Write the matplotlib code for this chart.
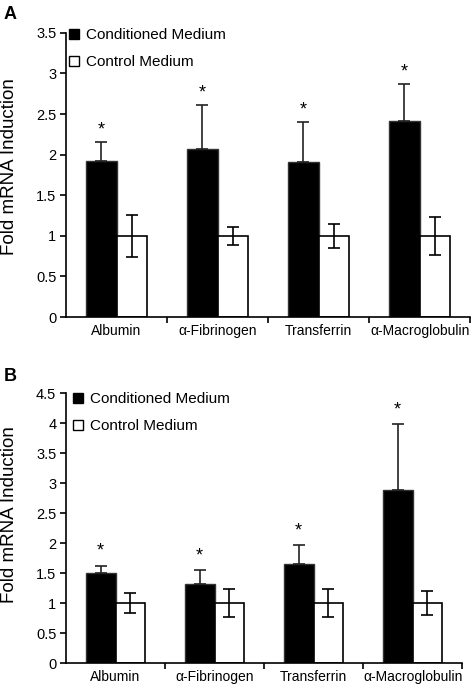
import numpy as np
import matplotlib.pyplot as plt
from matplotlib.lines import Line2D

plt.rcParams['font.family'] = ['Liberation Sans', 'DejaVu Sans']

genes = ["Albumin", "\u03b1-Fibrinogen", "Transferrin", "\u03b1-Macroglobulin"]

# panel A
cond_a = [1.92, 2.07, 1.91, 2.41]
cond_a_err = [0.23, 0.54, 0.49, 0.46]
ctrl_a = [1.0, 1.0, 1.0, 1.0]
ctrl_a_err = [0.26, 0.11, 0.145, 0.23]

# panel B
cond_b = [1.50, 1.31, 1.65, 2.88]
cond_b_err = [0.12, 0.24, 0.31, 1.10]
ctrl_b = [1.0, 1.0, 1.0, 1.0]
ctrl_b_err = [0.16, 0.24, 0.23, 0.195]

fig = plt.figure(figsize=(4.72, 6.84), dpi=100)
ax_a = fig.add_axes([0.14, 0.5365, 0.856, 0.4155])
ax_b = fig.add_axes([0.14, 0.0307, 0.839, 0.3947])


def draw(ax, cond, cond_err, ctrl, ctrl_err, ymax, step, star_off, label_x, label_y, leg_x, leg_top):
    x = np.arange(len(genes)) + 0.5
    w = 0.3
    ax.bar(x - w / 2, cond, w, color="black", edgecolor="#333333", linewidth=1)
    ax.bar(x + w / 2, ctrl, w, color="white", edgecolor="black", linewidth=1.2)
    ax.errorbar(x - w / 2, cond, yerr=[np.zeros(len(cond)), cond_err],
                fmt="none", ecolor="#222222", elinewidth=1.2, capsize=4, capthick=1.2)
    ax.errorbar(x + w / 2, ctrl, yerr=ctrl_err,
                fmt="none", ecolor="black", elinewidth=1.2, capsize=4, capthick=1.2)
    for xi, c, e in zip(x - w / 2, cond, cond_err):
        ax.text(xi, c + e + star_off, "*", ha="center", va="center", fontsize=13)
    ax.set_xlim(0, 4)
    ax.set_ylim(0, ymax)
    yt = np.arange(0, ymax + 0.01, step)
    ax.set_yticks(yt)
    ax.set_yticklabels(["%g" % v for v in yt], fontsize=10.5)
    ax.set_xticks([1, 2, 3, 4])
    ax.set_xticklabels([])
    ax.set_xticks(x, minor=True)
    ax.set_xticklabels(genes, minor=True, fontsize=10)
    ax.tick_params(axis="x", which="minor", length=0, pad=5)
    ax.tick_params(axis="x", which="major", direction="out", length=4, width=1.2)
    ax.tick_params(axis="y", direction="out", length=4, width=1.2, pad=3)
    for s in ["top", "right"]:
        ax.spines[s].set_visible(False)
    for s in ["left", "bottom"]:
        ax.spines[s].set_linewidth(1.2)
    ax.set_ylabel("Fold mRNA Induction", fontsize=13.5)
    ax.yaxis.set_label_coords(label_x, label_y)
    handles = [
        Line2D([], [], marker="s", color="black", markerfacecolor="black",
               markeredgecolor="black", linestyle="none", markersize=6.5),
        Line2D([], [], marker="s", color="black", markerfacecolor="white",
               markeredgecolor="black", linestyle="none", markersize=6.5, markeredgewidth=1),
    ]
    ax.legend(handles, ["Conditioned Medium", "Control Medium"], loc="upper left",
              bbox_to_anchor=(leg_x, leg_top), frameon=False, fontsize=11,
              borderaxespad=0, borderpad=0,
              handlelength=0.8, handletextpad=0.4, labelspacing=0.85)


draw(ax_a, cond_a, cond_a_err, ctrl_a, ctrl_a_err, 3.5, 0.5, 0.15, -0.119, 0.528, 0.005, 1.017)
draw(ax_b, cond_b, cond_b_err, ctrl_b, ctrl_b_err, 4.5, 0.5, 0.24, -0.122, 0.548, 0.015, 1.004)

fig.text(0.008, 0.979, "A", fontsize=13, fontweight="bold", va="center")
fig.text(0.008, 0.45, "B", fontsize=13, fontweight="bold", va="center")

fig.savefig("out.png", dpi=100)
